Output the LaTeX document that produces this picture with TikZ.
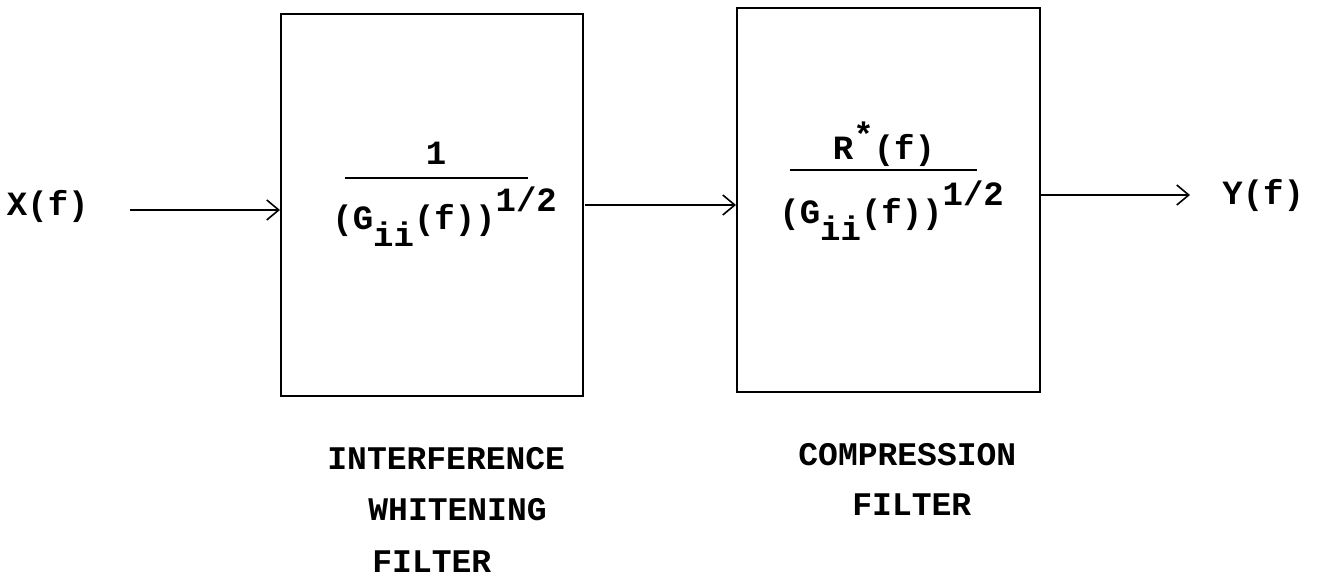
\documentclass[tikz,border=0pt]{standalone}
\usepackage{fontspec}
\setmainfont{Liberation Mono}
\usetikzlibrary{arrows.meta}
\begin{document}
\begin{tikzpicture}[x=0.5pt,y=-0.5pt,
  box/.style={draw,line width=1pt,inner sep=0pt},
  txt/.style={font=\fontsize{17}{20}\selectfont\bfseries,inner sep=0pt},
  lbl/.style={font=\fontsize{16.5}{20}\selectfont\bfseries,inner sep=0pt},
  conn/.style={line width=0.9pt,-{Straight Barb[length=6pt,width=10pt,line width=0.8pt]}}]
\useasboundingbox (0,0) rectangle (1318,587);
% boxes
\node[box,minimum width=151pt,minimum height=191pt] (b1) at (432,205.5) {};
\node[box,minimum width=151.5pt,minimum height=192pt] (b2) at (888.5,200) {};
% input / output labels
\node[txt,anchor=base east] (xf) at (89,216) {X(f)};
\node[txt,anchor=base west] (yf) at (1222,205) {Y(f)};
% connectors
\coordinate (a1) at (130,210);
\draw[conn] (a1) -- (a1 -| b1.west);
\coordinate (a2) at (585,205);
\draw[conn] (a2) -- (a2 -| b2.west);
\coordinate (a3) at (1040,195);
\coordinate (a3e) at (1190,195);
\draw[conn] (a3) -- (a3e);
% fraction 1
\node[txt,anchor=base] (n1) at (436,165) {1};
\coordinate (l1a) at (345,178);
\coordinate (l1b) at (528,178);
\draw[line width=1pt] (l1a) -- (l1b);
\node[txt,anchor=base west] (d1) at (332,230) {(G\raisebox{-0.5em}{ii}(f))\raisebox{0.55em}{1/2}};
% fraction 2
\node[txt,anchor=base] (n2) at (884,160) {R\raisebox{0.4em}{*}(f)};
\coordinate (l2a) at (790,170);
\coordinate (l2b) at (977,170);
\draw[line width=1pt] (l2a) -- (l2b);
\node[txt,anchor=base west] (d2) at (779,224) {(G\raisebox{-0.5em}{ii}(f))\raisebox{0.55em}{1/2}};
% labels
\node[lbl,anchor=base west] (lab1a) at (327,470) {INTERFERENCE};
\node[lbl,anchor=base west] (lab1b) at (368,521) {WHITENING};
\node[lbl,anchor=base west] (lab1c) at (372,573) {FILTER};
\node[lbl,anchor=base west] (lab2a) at (798,466) {COMPRESSION};
\node[lbl,anchor=base west] (lab2b) at (852,516) {FILTER};
\end{tikzpicture}
\end{document}
